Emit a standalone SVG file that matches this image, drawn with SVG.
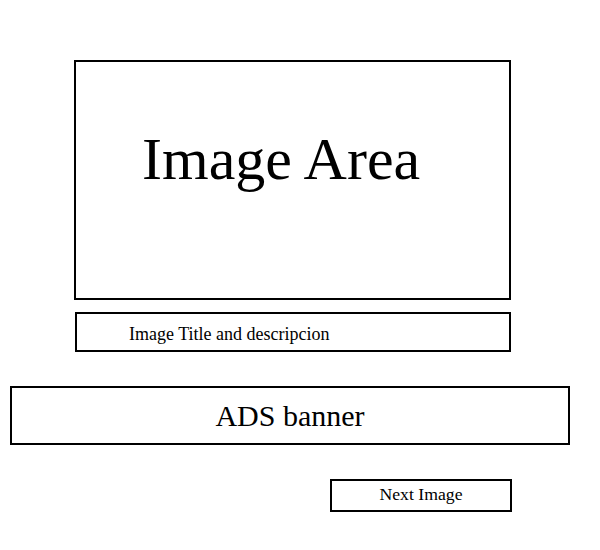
<svg xmlns="http://www.w3.org/2000/svg" width="600" height="550" viewBox="0 0 600 550">
<style>
.box{fill:#fff;stroke:#000;stroke-width:2}
text{font-family:"Liberation Serif","Times New Roman",serif;fill:#000}
</style>
<rect width="600" height="550" fill="#fff"/>
<g id="image-area">
<rect class="box" x="75" y="61" width="435" height="238"/>
<text x="142" y="179" font-size="60">Image Area</text>
</g>
<g id="image-title">
<rect class="box" x="76" y="313" width="434" height="38"/>
<text x="129" y="339.5" font-size="18">Image Title and descripcion</text>
</g>
<g id="ads-banner">
<rect class="box" x="11" y="387" width="558" height="57"/>
<text x="290" y="426" font-size="30" text-anchor="middle">ADS banner</text>
</g>
<g id="next-image">
<rect class="box" x="331" y="480" width="180" height="31"/>
<text x="421" y="500" font-size="17.7" text-anchor="middle">Next Image</text>
</g>
<g id="connectors"></g>
</svg>
